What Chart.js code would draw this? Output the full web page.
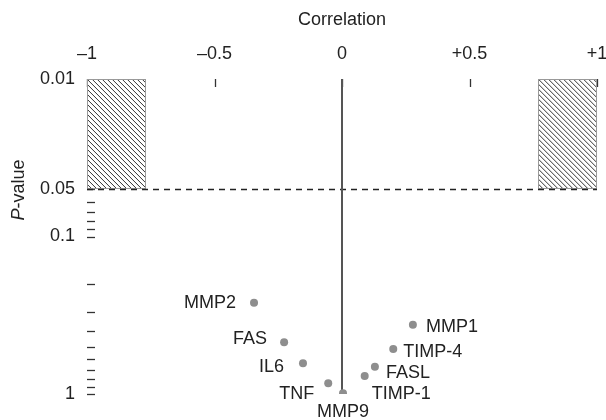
<!DOCTYPE html>
<html>
<head>
<meta charset="utf-8">
<script src="https://cdn.jsdelivr.net/npm/chart.js@4"></script>
<style>
  html, body { margin: 0; padding: 0; background: #fff; }
  #c { display: block; }
</style>
</head>
<body>
<canvas id="c" width="606" height="420"></canvas>
<script>
// ---- data ----
const genes = ['MMP2', 'FAS', 'IL6', 'TNF', 'MMP9', 'TIMP-1', 'FASL', 'TIMP-4', 'MMP1'];
const correlation = [-0.345, -0.227, -0.153, -0.054, 0.004, 0.089, 0.129, 0.201, 0.278];
const pValue = [0.263, 0.47, 0.637, 0.855, 0.99, 0.77, 0.672, 0.518, 0.364];

const xTickValues = [-1, -0.5, 0, 0.5, 1];
const yTickValues = [0.01, 0.05, 0.1, 1];
const yMinorTicks = [0.05, 0.06, 0.07, 0.08, 0.09, 0.1, 0.2, 0.3, 0.4, 0.5, 0.6, 0.7, 0.8, 0.9, 1];
const significanceP = 0.05;
const pRange = [0.01, 0.05];
const hatchedRegions = [[-1, -0.77], [0.77, 1]];

// ---- label placement styles (offset from point, alignment) ----
const labelStyle = {
  'MMP2':   { dx: -18, dy: 0,  align: 'right' },
  'FAS':    { dx: -17, dy: -3, align: 'right' },
  'IL6':    { dx: -19, dy: 4,  align: 'right' },
  'TNF':    { dx: -14, dy: 11, align: 'right' },
  'MMP9':   { dx: 0,   dy: 19, align: 'center' },
  'TIMP-1': { dx: 7,   dy: 18, align: 'left' },
  'FASL':   { dx: 11,  dy: 6,  align: 'left' },
  'TIMP-4': { dx: 10,  dy: 3,  align: 'left' },
  'MMP1':   { dx: 13,  dy: 2,  align: 'left' }
};

const FONT = '"Liberation Sans", Arial, Helvetica, sans-serif';
const TEXT = '#222222';

const points = correlation.map((c, i) => ({ x: c, y: pValue[i] }));

const fmtX = v => v < 0 ? '\u2013' + Math.abs(v) : (v > 0 ? '+' + v : '0');

const decorPlugin = {
  id: 'decor',
  beforeDatasetsDraw(chart) {
    const ctx = chart.ctx;
    const xs = chart.scales.x, ys = chart.scales.y;
    const area = chart.chartArea;
    ctx.save();
    // x tick marks (inside, downward)
    ctx.strokeStyle = '#333';
    ctx.lineWidth = 1.3;
    xTickValues.forEach(v => {
      const px = Math.round(xs.getPixelForValue(v)) + 0.5;
      ctx.beginPath();
      ctx.moveTo(px, area.top);
      ctx.lineTo(px, area.top + 8);
      ctx.stroke();
    });
    // y minor tick marks (inside, rightward)
    yMinorTicks.forEach(v => {
      const py = Math.round(ys.getPixelForValue(v)) + 0.5;
      ctx.beginPath();
      ctx.moveTo(area.left, py);
      ctx.lineTo(area.left + 8, py);
      ctx.stroke();
    });
    // hatched regions
    hatchedRegions.forEach(r => {
      const x0 = xs.getPixelForValue(r[0]), x1 = xs.getPixelForValue(r[1]);
      const y0 = ys.getPixelForValue(pRange[0]), y1 = ys.getPixelForValue(pRange[1]);
      const l = Math.min(x0, x1), t = Math.min(y0, y1);
      const w = Math.abs(x1 - x0), h = Math.abs(y1 - y0);
      ctx.fillStyle = '#fff';
      ctx.fillRect(l, t, w, h);
      ctx.save();
      ctx.beginPath();
      ctx.rect(l, t, w, h);
      ctx.clip();
      ctx.strokeStyle = '#333';
      ctx.lineWidth = 1;
      for (let s = l - h; s < l + w; s += 5) {
        ctx.beginPath();
        ctx.moveTo(s, t);
        ctx.lineTo(s + h, t + h);
        ctx.stroke();
      }
      ctx.restore();
      ctx.strokeStyle = '#999';
      ctx.lineWidth = 1;
      ctx.strokeRect(Math.round(l) + 0.5, Math.round(t) + 0.5, Math.round(w) - 1, Math.round(h) - 1);
    });
    // significance dashed line
    const py = Math.round(ys.getPixelForValue(significanceP)) + 0.5;
    ctx.strokeStyle = '#222';
    ctx.lineWidth = 1.4;
    ctx.setLineDash([6, 5]);
    ctx.beginPath();
    ctx.moveTo(area.left, py);
    ctx.lineTo(area.right, py);
    ctx.stroke();
    ctx.setLineDash([]);
    // zero correlation line
    const px0 = Math.round(xs.getPixelForValue(0));
    ctx.strokeStyle = '#555';
    ctx.lineWidth = 2;
    ctx.beginPath();
    ctx.moveTo(px0, area.top);
    ctx.lineTo(px0, area.bottom);
    ctx.stroke();
    // y-axis title with italic P
    ctx.fillStyle = TEXT;
    ctx.translate(19, 190);
    ctx.rotate(-Math.PI / 2);
    ctx.textBaseline = 'middle';
    const italic = 'italic 18px ' + FONT;
    const normal = '18px ' + FONT;
    ctx.font = italic;
    const wP = ctx.measureText('P').width;
    ctx.font = normal;
    const wRest = ctx.measureText('-value').width;
    const start = -(wP + wRest) / 2;
    ctx.textAlign = 'left';
    ctx.font = italic;
    ctx.fillText('P', start, 0);
    ctx.font = normal;
    ctx.fillText('-value', start + wP, 0);
    ctx.restore();
  },
  afterDatasetsDraw(chart) {
    const ctx = chart.ctx;
    const meta = chart.getDatasetMeta(0);
    ctx.save();
    ctx.font = '18px ' + FONT;
    ctx.fillStyle = TEXT;
    ctx.textBaseline = 'middle';
    meta.data.forEach((el, i) => {
      const st = labelStyle[genes[i]];
      ctx.textAlign = st.align;
      ctx.fillText(genes[i], el.x + st.dx, el.y + st.dy);
    });
    ctx.restore();
  }
};

const zeroPad = s => { s.paddingLeft = 0; s.paddingRight = 0; s.paddingTop = 0; s.paddingBottom = 0; };

new Chart(document.getElementById('c'), {
  type: 'scatter',
  data: {
    datasets: [{
      data: points,
      backgroundColor: '#8e8e8e',
      borderColor: '#8e8e8e',
      pointRadius: 4,
      pointHoverRadius: 4,
      borderWidth: 0
    }]
  },
  options: {
    responsive: false,
    animation: false,
    events: [],
    layout: { padding: { left: 0, right: 9, top: 0, bottom: 26 } },
    plugins: { legend: { display: false }, tooltip: { enabled: false } },
    scales: {
      x: {
        type: 'linear',
        position: 'top',
        min: -1, max: 1,
        grid: { display: false, drawTicks: false },
        border: { display: false },
        afterBuildTicks: s => { s.ticks = xTickValues.map(v => ({ value: v })); },
        afterFit: s => { s.height = 79; zeroPad(s); },
        ticks: {
          callback: v => fmtX(v),
          padding: 14,
          maxRotation: 0,
          autoSkip: false,
          color: TEXT,
          font: { family: FONT, size: 18 }
        },
        title: {
          display: true,
          text: 'Correlation',
          color: TEXT,
          padding: { top: 9, bottom: 0 },
          font: { family: FONT, size: 18 }
        }
      },
      y: {
        type: 'logarithmic',
        reverse: true,
        min: 0.01, max: 1,
        grid: { display: false, drawTicks: false },
        border: { display: false },
        afterBuildTicks: s => { s.ticks = yTickValues.map(v => ({ value: v })); },
        afterFit: s => { s.width = 87; zeroPad(s); },
        ticks: {
          callback: v => String(v),
          padding: 12,
          autoSkip: false,
          color: TEXT,
          font: { family: FONT, size: 18 }
        }
      }
    }
  },
  plugins: [decorPlugin]
});
</script>
</body>
</html>
